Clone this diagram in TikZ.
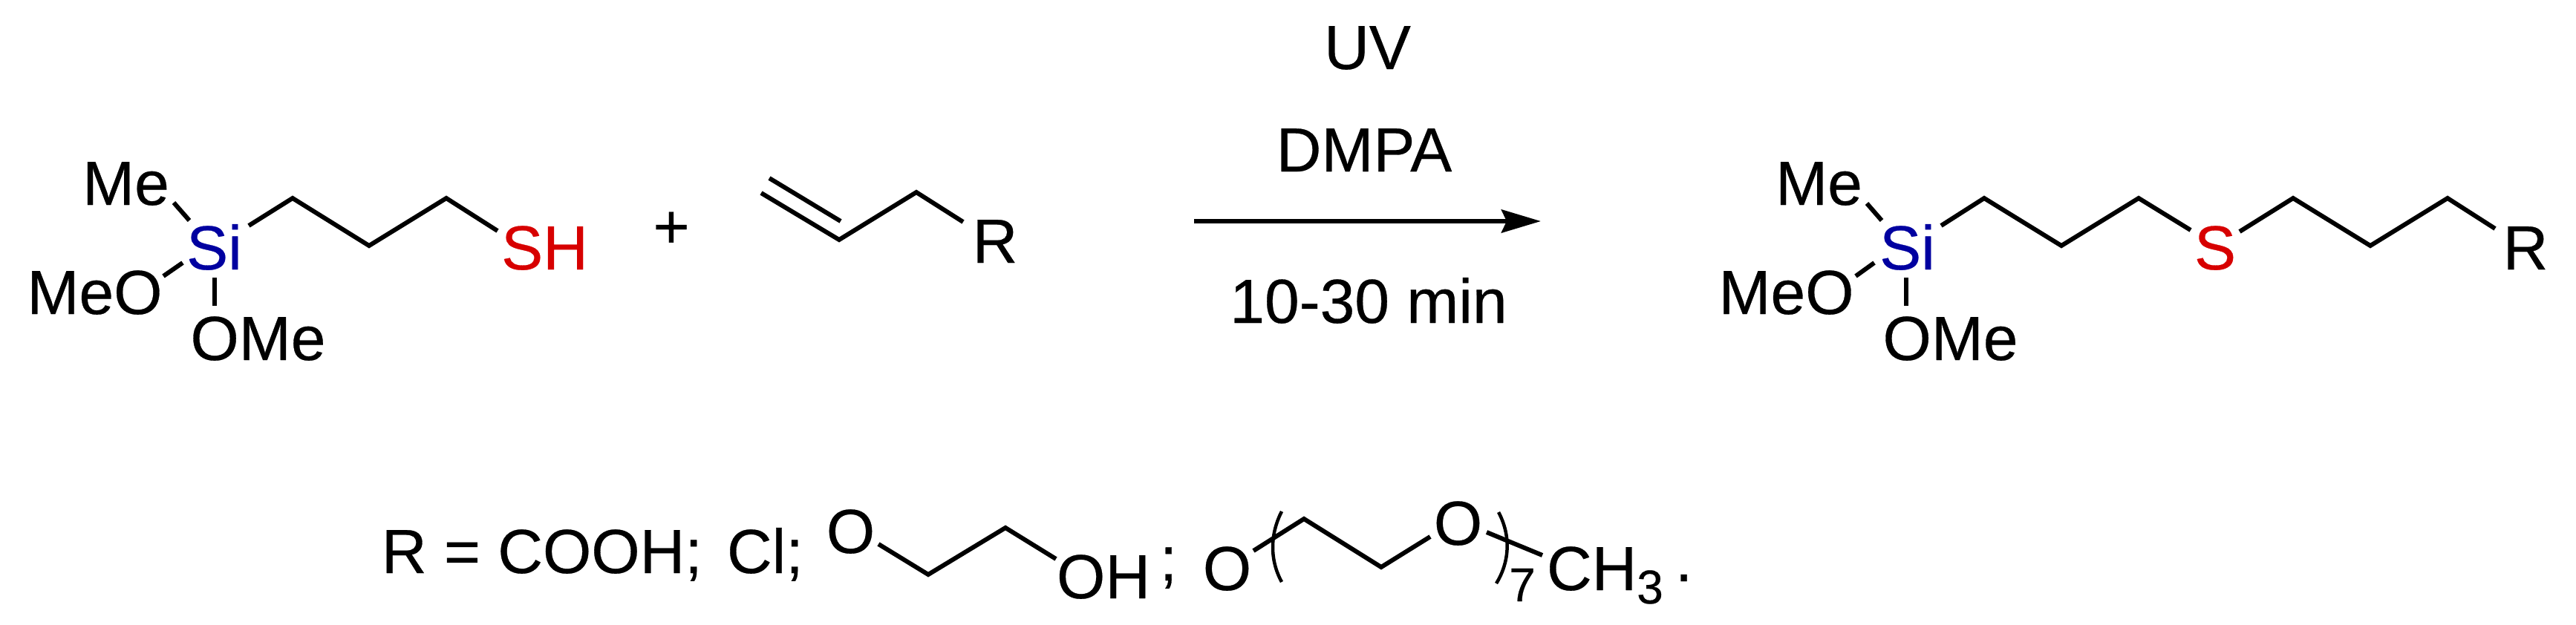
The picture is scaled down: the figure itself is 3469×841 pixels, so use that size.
\documentclass[tikz,border=0pt]{standalone}
\usepackage{fontspec}
\setmainfont[FakeBold=0.35]{Liberation Sans}
\usetikzlibrary{arrows.meta}
\definecolor{siblue}{RGB}{0,0,160}
\definecolor{sred}{RGB}{215,0,0}
\tikzset{
  atom/.style={inner sep=0pt,outer sep=0pt,anchor=base,font=\fontsize{84}{84}\selectfont\addfontfeature{FakeBold=0.35}},
  subscr/.style={inner sep=0pt,outer sep=0pt,anchor=base,font=\fontsize{64}{64}\selectfont\addfontfeature{FakeBold=0.35}},
  bond/.style={line width=6pt,line join=miter},
  paren/.style={line width=4.5pt},
  rxnarrow/.style={line width=6.5pt,-{Stealth[length=53pt,width=31pt,inset=7pt]}}
}
\begin{document}
\begin{tikzpicture}[x=1pt,y=-1pt]
\useasboundingbox[fill=white] (0,0) rectangle (3469,841);
% --- thiol
\node[atom] (me1) at (169.5,276) {Me};
\node[atom,text=siblue] (si1) at (288.5,363) {Si};
\node[atom,text=sred] (sh1) at (733.5,363) {SH};
\node[atom] (meo1) at (127.5,423) {MeO};
\node[atom] (ome1) at (347.5,485) {OMe};
\node[atom] (plus) at (904,334) {+};
\coordinate (a1) at (234,273); \coordinate (a2) at (255,297);
\coordinate (b1) at (220,372); \coordinate (b2) at (246,354);
\coordinate (c1) at (289,374); \coordinate (c2) at (289,412);
\coordinate (d1) at (335,304); \coordinate (d2) at (394,267); \coordinate (d3) at (497,331);
\coordinate (d4) at (601,267); \coordinate (d5) at (670,311);
\draw[bond] (a1) -- (a2);
\draw[bond] (b1) -- (b2);
\draw[bond] (c1) -- (c2);
\draw[bond] (d1) -- (d2) -- (d3) -- (d4) -- (d5);
% --- alkene
\node[atom] (r1) at (1340,354) {R};
\coordinate (e1) at (1025,260); \coordinate (e2) at (1130,323); \coordinate (e3) at (1234,259);
\coordinate (e4) at (1297,299); \coordinate (e5) at (1036,240); \coordinate (e6) at (1132,298);
\draw[bond] (e1) -- (e2) -- (e3) -- (e4);
\draw[bond] (e5) -- (e6);
% --- arrow
\node[atom] (uv) at (1841.5,93) {UV};
\node[atom] (dmpa) at (1837,231) {DMPA};
\node[atom] (time) at (1843,435) {10-30 min};
\coordinate (f1) at (1608,298); \coordinate (f2) at (2075,298);
\draw[rxnarrow] (f1) -- (f2);
% --- product
\node[atom] (me2) at (2449.5,276) {Me};
\node[atom,text=siblue] (si2) at (2568.5,363) {Si};
\node[atom,text=sred] (s2) at (2983,363) {S};
\node[atom] (r2) at (3401,363) {R};
\node[atom] (meo2) at (2405.5,423) {MeO};
\node[atom] (ome2) at (2626.5,485) {OMe};
\coordinate (g1) at (2514,274); \coordinate (g2) at (2534,297);
\coordinate (h1) at (2499,372); \coordinate (h2) at (2524,354);
\coordinate (i1) at (2567,374); \coordinate (i2) at (2567,412);
\coordinate (j1) at (2614,304); \coordinate (j2) at (2672,267); \coordinate (j3) at (2776,331);
\coordinate (j4) at (2880,267); \coordinate (j5) at (2950,310);
\coordinate (k1) at (3016,312); \coordinate (k2) at (3088,267); \coordinate (k3) at (3192,331);
\coordinate (k4) at (3296,267); \coordinate (k5) at (3360,308);
\draw[bond] (g1) -- (g2);
\draw[bond] (h1) -- (h2);
\draw[bond] (i1) -- (i2);
\draw[bond] (j1) -- (j2) -- (j3) -- (j4) -- (j5);
\draw[bond] (k1) -- (k2) -- (k3) -- (k4) -- (k5);
% --- R definitions
\node[atom,anchor=base west] (rdef) at (514,772) {R = COOH;};
\node[atom,anchor=base west] (cl) at (979,772) {Cl;};
\node[atom] (o1) at (1145.5,745) {O};
\node[atom,anchor=base east] (oh) at (1549,806) {OH};
\node[atom] (semi) at (1573.5,782) {;};
\node[atom] (o2) at (1652.5,795) {O};
\node[atom] (o3) at (1963.5,734) {O};
\node[atom,anchor=base west] (ch) at (2083,795) {CH};
\node[subscr] (sub3) at (2222,813) {3};
\node[subscr] (sub7) at (2050,810) {7};
\node[atom] (dot) at (2267.5,783) {.};
\coordinate (l1) at (1183,733); \coordinate (l2) at (1250,774); \coordinate (l3) at (1354,711); \coordinate (l4) at (1422,753);
\coordinate (m1) at (1688,742); \coordinate (m2) at (1756,699); \coordinate (m3) at (1860,764); \coordinate (m4) at (1926,723);
\coordinate (n1) at (2002,717); \coordinate (n2) at (2077,748);
\coordinate (p1) at (1726,689); \coordinate (p3) at (1726,784);
\coordinate (q1) at (2018,690); \coordinate (q3) at (2015,786);
\draw[bond] (l1) -- (l2) -- (l3) -- (l4);
\draw[bond] (m1) -- (m2) -- (m3) -- (m4);
\draw[bond] (n1) -- (n2);
\draw[paren] (p1) .. controls (1710,720) and (1710,755) .. (p3);
\draw[paren] (q1) .. controls (2034,720) and (2034,755) .. (q3);
\end{tikzpicture}
\end{document}
